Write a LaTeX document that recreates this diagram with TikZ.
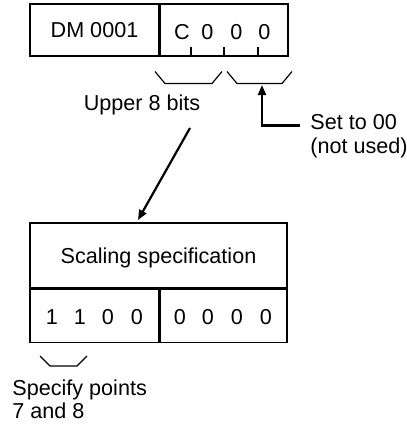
\documentclass[tikz,border=0pt]{standalone}
\usepackage{fontspec}
\setmainfont{Liberation Sans}
\usetikzlibrary{arrows.meta,calc,positioning}

\begin{document}
\begin{tikzpicture}[
  x=0.5pt,y=-0.5pt,font=\fontsize{10.8}{12}\selectfont,
  cell/.style={draw,line width=0.65pt,minimum height=26pt,inner sep=0pt,text depth=0pt},
  bits/.style={inner sep=0pt,anchor=base},
  note/.style={inner sep=0pt,anchor=base west},
  brace/.style={line width=0.6pt},
  tick/.style={line width=0.6pt},
  divider/.style={line width=1.1pt},
  pointer/.style={-{Triangle[length=5pt,width=4pt]},line width=1.1pt}
]
\useasboundingbox (0,0) rectangle (407,425);

\newcommand{\bitbrace}[4]{\draw[brace] (#1,#3) -- ++(10,#4) -- (#2-10,#3+#4) -- (#2,#3);}

% DM word
\node[cell,minimum width=64.5pt] (dm) at (94.5,30) {DM 0001};
\node[cell,minimum width=64.5pt] (cword) at (223.5,30) {};
\draw[divider] (dm.north east) -- (dm.south east);
\foreach \d/\x [count=\i] in {C/182,0/207.5,0/236.5,0/264.5}
  \node[bits] (dig\i) at (\x,39) {\d};
\foreach \x in {191,224,258}
  \draw[tick] (\x,56) -- ++(0,-9);

\bitbrace{155}{222}{71.5}{12}
\bitbrace{227}{292}{71.5}{12}

\node[bits] (upper) at (142,110.5) {Upper 8 bits};
\node[note] (setto) at (310,129) {Set to 00};
\node[note] (notused) at (310,153) {(not used)};

\coordinate (unused) at (262,85);
\draw[pointer] ($(setto.west)+(-10,4)$) -| (unused);

\coordinate (arrfrom) at (190,128);
\coordinate (arrto) at (138,220);
\draw[pointer] (arrfrom) -- (arrto);

% scaling word
\node[cell,minimum width=128.5pt,minimum height=32.5pt] (scaling) at (158.5,255.5)
  {Scaling specification};
\node[cell,minimum width=64.5pt,minimum height=26.5pt,anchor=north west] (hibyte)
  at (scaling.south west) {};
\node[cell,minimum width=64pt,minimum height=26.5pt,anchor=north east] (lobyte)
  at (scaling.south east) {};
\draw[divider] (hibyte.north east) -- (hibyte.south east);
\foreach \d/\x [count=\i] in {1/52,1/80,0/108,0/137}
  \node[bits] (hi\i) at (\x,324) {\d};
\foreach \d/\x [count=\i] in {0/180,0/208,0/237,0/266}
  \node[bits] (lo\i) at (\x,324) {\d};

\bitbrace{40}{87}{356}{10}
\node[note] (specify) at (12,395) {Specify points};
\node[note] (points) at (12,418) {7 and 8};

\end{tikzpicture}
\end{document}
